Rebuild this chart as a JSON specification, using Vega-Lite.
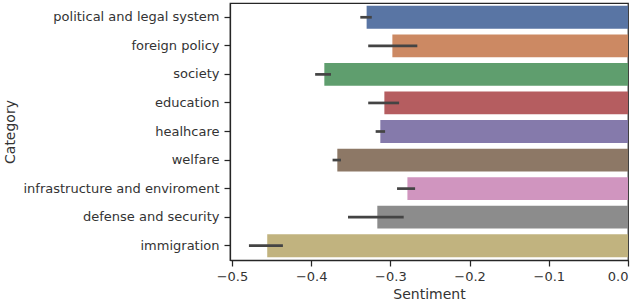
{
  "$schema": "https://vega.github.io/schema/vega-lite/v6.json",
  "width": 398,
  "height": 257,
  "autosize": {"type": "none"},
  "padding": {"left": 230, "top": 3, "right": 8, "bottom": 40},
  "background": "white",
  "config": {
    "font": "DejaVu Sans",
    "view": {"stroke": "#262626", "strokeWidth": 1.25},
    "axis": {
      "domainColor": "#262626",
      "domainWidth": 1.25,
      "tickColor": "#262626",
      "tickWidth": 1.25,
      "labelColor": "#333333",
      "titleColor": "#333333",
      "labelFont": "DejaVu Sans",
      "titleFont": "DejaVu Sans",
      "labelFontSize": 13,
      "titleFontSize": 14,
      "titleFontWeight": "normal",
      "labelLimit": 400,
      "grid": false
    }
  },
  "data": {
    "values": [
      {"category": "political and legal system", "sentiment": -0.330, "lo": -0.338, "hi": -0.3235},
      {"category": "foreign policy", "sentiment": -0.2975, "lo": -0.328, "hi": -0.266},
      {"category": "society", "sentiment": -0.3834, "lo": -0.395, "hi": -0.375},
      {"category": "education", "sentiment": -0.3076, "lo": -0.328, "hi": -0.289},
      {"category": "healhcare", "sentiment": -0.3127, "lo": -0.3186, "hi": -0.3067},
      {"category": "welfare", "sentiment": -0.367, "lo": -0.373, "hi": -0.3624},
      {"category": "infrastructure and enviroment", "sentiment": -0.2785, "lo": -0.2916, "hi": -0.2688},
      {"category": "defense and security", "sentiment": -0.3165, "lo": -0.3535, "hi": -0.2832},
      {"category": "immigration", "sentiment": -0.4555, "lo": -0.4786, "hi": -0.4357}
    ]
  },
  "encoding": {
    "y": {
      "field": "category",
      "type": "nominal",
      "sort": null,
      "title": "Category",
      "scale": {"paddingInner": 0.2, "paddingOuter": 0.1},
      "axis": {"tickSize": 6, "labelPadding": 5, "titlePadding": 13}
    }
  },
  "layer": [
    {
      "mark": {"type": "bar"},
      "encoding": {
        "x": {
          "field": "sentiment",
          "type": "quantitative",
          "title": "Sentiment",
          "scale": {"domain": [-0.5025, 0], "nice": false},
          "axis": {"values": [-0.5, -0.4, -0.3, -0.2, -0.1, 0.0], "format": ".1f", "tickSize": 6, "labelPadding": 4, "titlePadding": 4}
        },
        "color": {
          "field": "category",
          "type": "nominal",
          "sort": null,
          "legend": null,
          "scale": {
            "range": ["#5975A4", "#CC8963", "#5F9E6E", "#B55D60", "#857AAB", "#8D7866", "#D095BF", "#8C8C8C", "#C1B37F"]
          }
        }
      }
    },
    {
      "mark": {"type": "rule", "color": "#444444", "strokeWidth": 2.7},
      "encoding": {
        "x": {"field": "lo", "type": "quantitative"},
        "x2": {"field": "hi"}
      }
    }
  ]
}
